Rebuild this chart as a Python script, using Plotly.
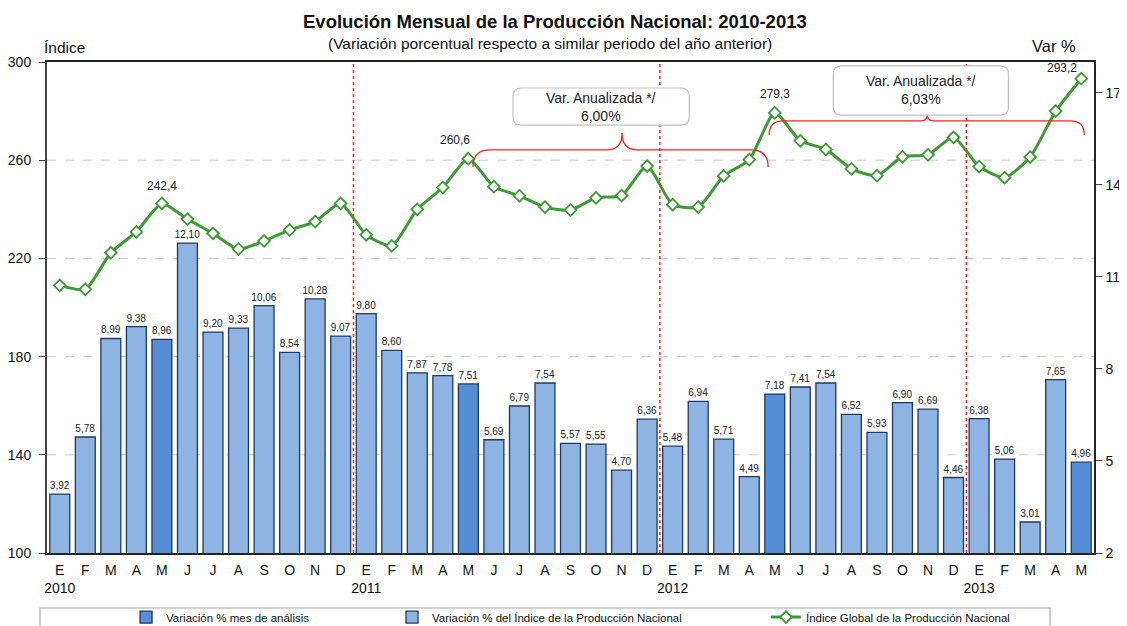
import plotly.graph_objects as go

# ---------------- data ----------------
months = ["E", "F", "M", "A", "M", "J", "J", "A", "S", "O", "N", "D"]
years = ["2010", "2011", "2012", "2013"]
var_pct = [3.92, 5.78, 8.99, 9.38, 8.96, 12.10, 9.20, 9.33, 10.06, 8.54, 10.28, 9.07,
           9.80, 8.60, 7.87, 7.78, 7.51, 5.69, 6.79, 7.54, 5.57, 5.55, 4.70, 6.36,
           5.48, 6.94, 5.71, 4.49, 7.18, 7.41, 7.54, 6.52, 5.93, 6.90, 6.69, 4.46,
           6.38, 5.06, 3.01, 7.65, 4.96]
indice = [209.0, 207.4, 222.3, 230.8, 242.4, 236.0, 230.2, 223.8, 227.1, 231.6, 235.0, 242.4,
          229.6, 225.1, 240.0, 248.9, 260.6, 249.2, 245.5, 240.9, 239.7, 244.7, 245.6, 257.6,
          241.9, 240.9, 253.6, 260.2, 279.3, 267.9, 264.4, 256.5, 253.7, 261.4, 262.2, 269.3,
          257.4, 252.9, 261.3, 280.0, 293.2]
anual_labels = ["Var. Anualizada */<br>6,00%", "Var. Anualizada */<br>6,03%"]
analysis_month = 4  # May

n = len(var_pct)
xs = list(range(n))
ticktext = [months[i % 12] + ("<br>" + years[i // 12] if i % 12 == 0 else "") for i in xs]
hi = [i for i in xs if i % 12 == analysis_month]
lo = [i for i in xs if i % 12 != analysis_month]

FONT = "Liberation Sans, Arial, sans-serif"
NAVY = "#1F3864"

fig = go.Figure()
fig.add_trace(go.Bar(
    x=hi, y=[var_pct[i] for i in hi], name="Variación % mes de análisis", legend="legend",
    marker=dict(color="#558ED5", line=dict(color=NAVY, width=1.3)),
    width=0.78, texttemplate="%{y:.2f}", textposition="outside", constraintext="none",
    textfont=dict(size=10, color="#222"), cliponaxis=False, yaxis="y"))
fig.add_trace(go.Bar(
    x=lo, y=[var_pct[i] for i in lo], name="Variación % del Índice de la Producción Nacional",
    legend="legend2",
    marker=dict(color="#8DB4E2", line=dict(color=NAVY, width=1.3)),
    width=0.78, texttemplate="%{y:.2f}", textposition="outside", constraintext="none",
    textfont=dict(size=10, color="#222"), cliponaxis=False, yaxis="y"))
fig.add_trace(go.Scatter(
    x=xs, y=indice, name="Índice Global de la Producción Nacional", mode="lines+markers",
    legend="legend3",
    line=dict(color="#3D9B35", width=3, shape="spline", smoothing=0.6),
    marker=dict(symbol="diamond", size=9, color="white", line=dict(color="#3D9B35", width=1.8)),
    yaxis="y2", cliponaxis=False))

shapes = []
# dashed gridlines (left axis)
for v in [140, 180, 220, 260]:
    shapes.append(dict(type="line", xref="paper", yref="y2", x0=0, x1=1, y0=v, y1=v,
                       line=dict(color="#C8C8C8", width=1, dash="dash"), layer="below"))
# red dotted year separators
for k in range(1, len(years)):
    xv = 12 * k - 0.5
    shapes.append(dict(type="line", xref="x", yref="paper", x0=xv, x1=xv, y0=0, y1=1,
                       line=dict(color="#FF2020", width=1.5, dash="dot")))

# braces
def brace(x0, x1, xt, yb, yh, yt, cx, cy, tx, ty):
    return (f"M {x0},{yb} Q {x0},{yh} {x0+cx},{yh} L {xt-tx},{yh} Q {xt},{yh} {xt},{yt} "
            f"Q {xt},{yh} {xt+tx},{yh} L {x1-cx},{yh} Q {x1},{yh} {x1},{yb}")

shapes.append(dict(type="path", xref="x", yref="y2",
                   path=brace(16.18, 27.74, 22.02, 257.2, 264.2, 271.1, 0.67, 6.9, 0.6, 6.9),
                   line=dict(color="#FF2020", width=1.3)))
shapes.append(dict(type="path", xref="x", yref="y2",
                   path=brace(27.78, 40.12, 33.97, 270.3, 276.0, 278.4, 0.55, 5.7, 0.27, 2.4),
                   line=dict(color="#FF2020", width=1.3)))

# rounded text boxes
def rrect(x0, x1, y0, y1, rx=0.33, ry=3.3):
    return (f"M {x0+rx},{y1} L {x1-rx},{y1} Q {x1},{y1} {x1},{y1-ry} L {x1},{y0+ry} "
            f"Q {x1},{y0} {x1-rx},{y0} L {x0+rx},{y0} Q {x0},{y0} {x0},{y0+ry} "
            f"L {x0},{y1-ry} Q {x0},{y1} {x0+rx},{y1} Z")

boxes = [(17.75, 24.65, 274.3, 289.4), (30.29, 37.15, 278.4, 298.4)]
annotations = []
for (bx0, bx1, by0, by1), lab in zip(boxes, anual_labels):
    shapes.append(dict(type="path", xref="x", yref="y2", path=rrect(bx0, bx1, by0, by1),
                       fillcolor="white", line=dict(color="#BFBFBF", width=1.2)))
    annotations.append(dict(x=(bx0 + bx1) / 2, y=(by0 + by1) / 2, xref="x", yref="y2",
                            text=lab, showarrow=False, yanchor="middle",
                            font=dict(size=14, color="#222")))

# legend frame
shapes.append(dict(type="rect", xref="paper", yref="paper", x0=-0.0067, x1=0.958,
                   y0=-0.2, y1=-0.112, line=dict(color="#A6A6A6", width=1.2)))

# peak labels of the index line
peak_shift = [(0, 8), (-13, 10), (0, 10), (-19, 2)]
for i, (dx, dy) in zip(hi, peak_shift):
    annotations.append(dict(x=i, y=indice[i], xref="x", yref="y2",
                            text=f"{indice[i]:.1f}".replace(".", ","), showarrow=False,
                            yanchor="bottom", xshift=dx, yshift=dy,
                            font=dict(size=12, color="#222")))

# titles
annotations += [
    dict(x=0.4852, y=1.0815, xref="paper", yref="paper", showarrow=False, yanchor="middle",
         text="<b>Evolución Mensual de la Producción Nacional: 2010-2013</b>",
         font=dict(size=18.5, color="#111")),
    dict(x=0.4804, y=1.037, xref="paper", yref="paper", showarrow=False, yanchor="middle",
         text="(Variación porcentual respecto a similar periodo del año anterior)",
         font=dict(size=15.5, color="#111")),
    dict(x=-0.005, y=1.029, xref="paper", yref="paper", showarrow=False, xanchor="left",
         yanchor="middle", text="Índice", font=dict(size=15.5, color="#111")),
    dict(x=0.985, y=1.033, xref="paper", yref="paper", showarrow=False, xanchor="right",
         yanchor="middle", text="Var %", font=dict(size=16.5, color="#111")),
]

leg_common = dict(orientation="h", xanchor="left", y=-0.101, yanchor="top",
                  font=dict(size=11.5), bgcolor="rgba(0,0,0,0)")

# the page body adds an 8px offset; size the figure so the plot lands where the reference has it
fig.update_layout(
    width=1119, height=618,
    margin=dict(l=39, r=33, t=54, b=73, autoexpand=False),
    paper_bgcolor="white", plot_bgcolor="rgba(0,0,0,0)",
    font=dict(family=FONT, size=14, color="#111"),
    separators=",.",
    barmode="overlay",
    showlegend=True,
    legend=dict(x=0.0755, **leg_common),
    legend2=dict(x=0.3295, **leg_common),
    legend3=dict(x=0.6867, **leg_common),
    xaxis=dict(range=[-0.5, 40.5], tickvals=xs, ticktext=ticktext, showgrid=False,
               showline=True, linecolor="#222", linewidth=1.5, mirror=True, ticks="",
               tickfont=dict(size=14), ticklabelstandoff=3, zeroline=False),
    yaxis=dict(range=[2, 18], tickvals=[2, 5, 8, 11, 14, 17], side="right", showgrid=False,
               showline=True, linecolor="#222", linewidth=1.5, ticks="outside", ticklen=6,
               tickcolor="#444", tickfont=dict(size=14), ticklabelstandoff=1, zeroline=False),
    yaxis2=dict(range=[100, 300], tickvals=[100, 140, 180, 220, 260, 300], overlaying="y",
                side="left", showgrid=False, showline=True, linecolor="#444", linewidth=2,
                ticks="outside", ticklen=6, tickcolor="#444", tickfont=dict(size=14),
                ticklabelstandoff=5, zeroline=False),
    shapes=shapes, annotations=annotations,
)

fig.write_html("out.html")
